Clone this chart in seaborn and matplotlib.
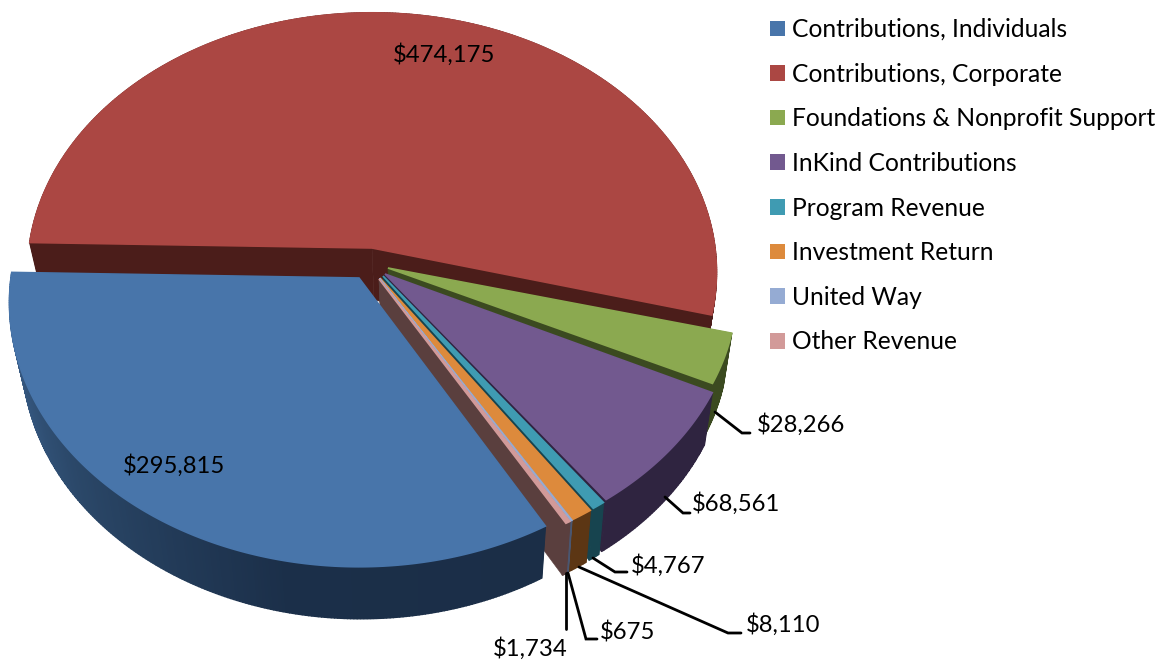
import numpy as np
import matplotlib
matplotlib.use("Agg")
import matplotlib.pyplot as plt
from matplotlib.patches import Patch, Polygon
import seaborn as sns

categories = ["Contributions, Individuals", "Contributions, Corporate",
              "Foundations & Nonprofit Support", "InKind Contributions",
              "Program Revenue", "Investment Return", "United Way", "Other Revenue"]
values = [295815, 474175, 28266, 68561, 4767, 8110, 675, 1734]
top_colors = ["#4875AA", "#AB4743", "#8BA950", "#72598F", "#3F9BB2", "#DD8A3C", "#95ABD3", "#D29A99"]
wall_colors = [["#3F6695", "#2B4869", "#1B2F49", "#1B2E47"], ["#4B1D1A"], ["#3B4A20"], ["#2F2440"],
               ["#17444F"], ["#5C3614"], ["#4A5670"], ["#5A3F3E"]]
face_colors = ["#1B2E47", "#4B1D1A", "#3B4A20", "#2F2440", "#17444F", "#5C3614", "#4A5670", "#5A3F3E"]

# where each exploded slice sits, in pixels
vertex_x = [359, 372, 388, 385, 383, 380, 379.5, 379]
vertex_y = [278, 248, 268, 274, 276, 278, 278.5, 279]
radius_x = [348, 343, 347, 350, 349, 349, 349, 349]
radius_y = [262, 257, 250, 257, 258, 258, 258, 258]
tilt = 0.0927
depth = 52
shrink = 0.97

# label text anchors and leader lines
big_labels = [(0, 123, 466), (1, 393, 55)]
leaders = [
    (2, 757, 425, [(715, 412), (742, 433), (750, 433)]),
    (3, 692, 504, [(665, 497), (683, 513), (690, 513)]),
    (4, 631, 566, [(593, 558), (615, 572), (627, 572)]),
    (5, 746, 625, [(579, 567), (728, 633), (741, 633)]),
    (6, 600, 632, [(568, 573), (586, 639), (597, 639)]),
    (7, 493, 649, [(566, 573), (566, 629)]),
]

sns.set_theme(style="white")
plt.rcParams["font.family"] = ["Lato", "DejaVu Sans"]

fig, ax = plt.subplots(figsize=(11.59, 6.62), dpi=100)
fig.subplots_adjust(left=0, right=1, top=1, bottom=0)

# the pie works out the slice angles, the wedges are then rebuilt in perspective
wedges, _ = ax.pie(values, startangle=-60.5, counterclock=False)
angles = [(w.theta1, w.theta2) for w in wedges]
for w in wedges:
    w.remove()
ax.set_aspect("auto")
ax.set_xlim(0, 1159)
ax.set_ylim(662, 0)
ax.axis("off")


def arc(i, t1, t2, n, base=False):
    t = np.radians(np.linspace(t1, t2, n))
    w = 1 + tilt * np.sin(t)
    q = shrink if base else 1
    x = vertex_x[i] + (2 if base else 0) + q * radius_x[i] * np.cos(t) / w
    y = vertex_y[i] + (depth if base else 0) - radius_y[i] * np.sin(t) / w
    return np.column_stack([x, y])


def draw_slice(i):
    t1, t2 = angles[i]
    n = max(int(abs(t2 - t1) * 2), 4)
    top = arc(i, t1, t2, n + 1)
    low = arc(i, t1, t2, n + 1, base=True)
    v_top = (vertex_x[i], vertex_y[i])
    v_low = (vertex_x[i] + 2, vertex_y[i] + depth)
    # cut faces
    for k in (0, -1):
        ax.add_patch(Polygon([v_top, top[k], low[k], v_low], closed=True,
                             fc=face_colors[i], ec=face_colors[i], lw=0.4))
    # outer wall, thin strips so the shading can change along it
    stops = wall_colors[i] if len(wall_colors[i]) > 1 else wall_colors[i] * 2
    shades = sns.blend_palette(stops, n_colors=n)
    for k in range(n):
        ax.add_patch(Polygon([top[k], top[k + 1], low[k + 1], low[k]], closed=True,
                             fc=shades[k], ec=shades[k], lw=1.0))
    ax.add_patch(Polygon(np.vstack([[v_top], top]), closed=True,
                         fc=top_colors[i], ec=top_colors[i], lw=1.2))


# back to front
for i in [1, 2, 3, 4, 5, 6, 7, 0]:
    draw_slice(i)

for i, x, y in big_labels:
    ax.text(x, y, f"${values[i]:,}", fontsize=17.2, color="black", va="center", ha="left")
for i, x, y, line in leaders:
    xs, ys = zip(*line)
    ax.plot(xs, ys, color="black", lw=2.0, solid_joinstyle="miter")
    ax.text(x, y, f"${values[i]:,}", fontsize=17.2, color="black", va="center", ha="left")

handles = [Patch(fc=c, ec="none") for c in top_colors]
ax.legend(handles, categories, loc="upper left", bbox_to_anchor=(770 / 1159, 1 - 18 / 662),
          frameon=False, fontsize=17.7, handlelength=0.6, handleheight=0.6, handletextpad=0.3,
          labelspacing=0.88, borderpad=0, borderaxespad=0, labelcolor="black")

fig.savefig("out.png", dpi=100)
